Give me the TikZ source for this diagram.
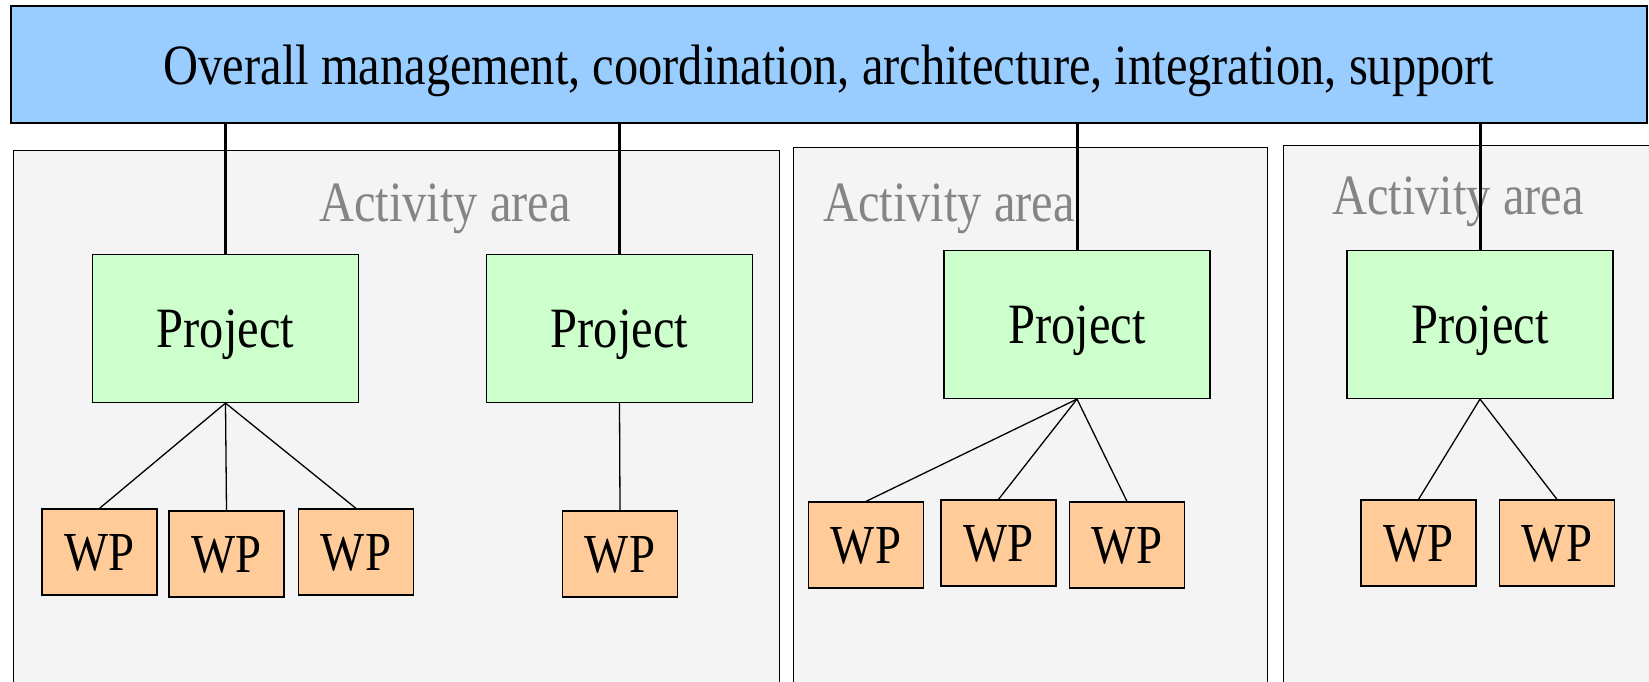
\documentclass[tikz,border=0pt]{standalone}
\usepackage{fontspec}
\usepackage{tikz}
\usetikzlibrary{positioning,calc}
\newfontfamily\wbsfont{Liberation Serif}[FakeStretch=0.85]
\definecolor{wbsBar}{HTML}{99CCFF}
\definecolor{wbsProj}{HTML}{CCFFCC}
\definecolor{wbsWP}{HTML}{FFCC99}
\definecolor{wbsArea}{HTML}{F4F4F4}
\definecolor{wbsMute}{HTML}{858585}
\tikzset{
  wbsnode/.style={
    draw, line width=1.2pt, inner sep=0pt, align=center, text depth=0pt,
    font=\wbsfont\fontsize{57}{62}\selectfont
  },
  bar/.style={wbsnode, fill=wbsBar, minimum width=1636pt, minimum height=117pt},
  area/.style={draw, line width=1.2pt, fill=wbsArea, anchor=north west, inner sep=0pt},
  areatag/.style={font=\wbsfont\fontsize{57}{62}\selectfont, text=wbsMute, anchor=base},
  project/.style={wbsnode, fill=wbsProj, minimum width=266pt, minimum height=148pt},
  wp/.style={wbsnode, fill=wbsWP, minimum width=115pt, minimum height=86pt,
    font=\wbsfont\fontsize{55}{60}\selectfont},
  mainlink/.style={line width=3pt, black},
  wplink/.style={line width=1.3pt, black}
}
\begin{document}
\begin{tikzpicture}[x=1pt, y=-1pt]
  \useasboundingbox (0,0) rectangle (1649,682);
  \clip (0,0) rectangle (1649,682);
  % activity areas
  \node[area, minimum width=766pt, minimum height=560pt] (area1) at (13,150) {};
  \node[area, minimum width=474pt, minimum height=560pt] (area2) at (793,147) {};
  \node[area, minimum width=400pt, minimum height=560pt] (area3) at (1283,145) {};
  \node[areatag] (tag1) at (445,221) {Activity area};
  \node[areatag] (tag2) at (949,221) {Activity area};
  \node[areatag] (tag3) at (1458,214) {Activity area};
  % top bar
  \node[bar] (bar) at (829,64.5) {Overall management, coordination, architecture, integration, support};
  % projects
  \node[project] (p1) at (225.5,328.5) {Project};
  \node[project] (p2) at (619.5,328.5) {Project};
  \node[project] (p3) at (1077,324.5) {Project};
  \node[project] (p4) at (1480,324.5) {Project};
  % work packages
  \node[wp] (w11) at (99.5,552) {WP};
  \node[wp] (w12) at (226.5,554) {WP};
  \node[wp] (w13) at (356,552) {WP};
  \node[wp] (w21) at (620,554) {WP};
  \node[wp] (w31) at (866,545) {WP};
  \node[wp] (w32) at (998.5,543) {WP};
  \node[wp] (w33) at (1127,545) {WP};
  \node[wp] (w41) at (1418.5,543) {WP};
  \node[wp] (w42) at (1557,543) {WP};
  % links
  \foreach \p in {p1,p2,p3,p4}
    \draw[mainlink] (\p.north) -- (\p.north |- bar.south);
  \foreach \w in {w11,w12,w13}
    \draw[wplink] (p1.south) -- (\w.north);
  \draw[wplink] (p2.south) -- (w21.north);
  \foreach \w in {w31,w32,w33}
    \draw[wplink] (p3.south) -- (\w.north);
  \foreach \w in {w41,w42}
    \draw[wplink] (p4.south) -- (\w.north);
\end{tikzpicture}
\end{document}
